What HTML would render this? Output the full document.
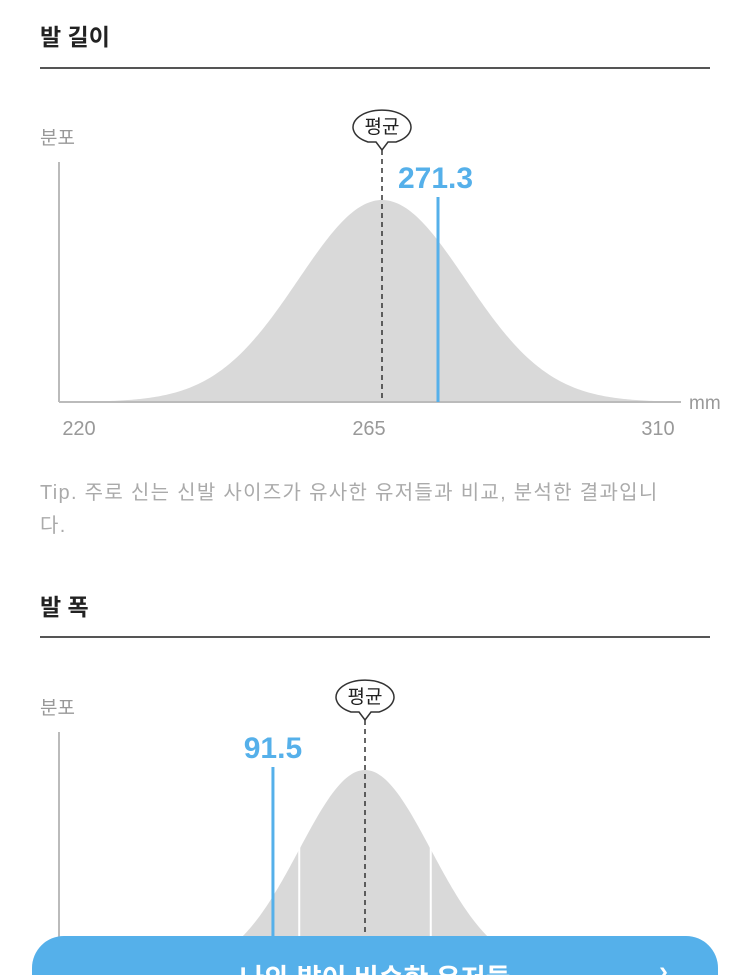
<!DOCTYPE html>
<html style="overflow:hidden;width:750px;height:975px"><head><meta charset="utf-8"><style>
body{margin:0;width:750px;height:975px;overflow:hidden;background:#fff;font-family:"Liberation Sans","Noto Sans CJK KR",sans-serif;position:relative}
.t{position:absolute;left:40px;font-size:23px;font-weight:bold;color:#222}
.hr{position:absolute;left:40px;width:670px;height:2px;background:#555}
.tip{position:absolute;left:40px;top:477px;width:700px;font-size:20px;letter-spacing:1.3px;line-height:33px;color:#aaa}
.btn{position:absolute;left:32px;top:936px;width:686px;height:39px;border-radius:32px 32px 0 0;background:#55b0ea;color:#fff;font-size:27px;font-weight:bold;text-align:center;overflow:hidden}
.btn span.l{position:absolute;left:0;right:0;top:28px;line-height:30px}
svg{position:absolute;left:0;top:0}
</style></head><body>
<div class="t" style="top:18px">발 길이</div>
<div class="hr" style="top:67px"></div>
<div class="tip">Tip. 주로 신는 신발 사이즈가 유사한 유저들과 비교, 분석한 결과입니<br>다.</div>
<div class="t" style="top:588px">발 폭</div>
<div class="hr" style="top:636px"></div>
<svg id="s" width="750" height="975"></svg>
<div class="btn"><span class="l">나와 발이 비슷한 유저들</span><span style="position:absolute;right:50px;top:20px">›</span></div>
<script>
const lenTicks=["220","265","310"];
const lenMean=[265];
const lenMine=[271.3];
const lenSd=[9.4];
const widMean=[95.0];
const widMine=[91.5];
const widSd=[2.5];
const NS="http://www.w3.org/2000/svg";
const s=document.getElementById('s');
function el(t,a,txt){const e=document.createElementNS(NS,t);for(const k in a)e.setAttribute(k,a[k]);if(txt!=null)e.textContent=txt;s.appendChild(e);return e;}
function chart(o){
  const x=v=>o.cx+(v-o.mean)*o.k;
  const y=f=>o.base-f*o.h;
  let d=`M${o.x0},${o.base}`;
  for(let px=o.x0;px<=o.x1;px+=2){const z=(px-x(o.mean))/(o.sd*o.k);d+=` L${px},${y(Math.exp(-z*z/2))}`;}
  d+=` L${o.x1},${o.base} Z`;
  let e=el('path',{d,fill:'#d9d9d9'});
  
  
  if(o.sdLines){[-1,1].forEach(m=>{const px=x(o.mean+m*o.sd);e=el('line',{x1:px,x2:px,y1:y(Math.exp(-0.5))-8,y2:o.base,stroke:'#fff','stroke-width':2});
    
    });}
  e=el('line',{x1:59,x2:59,y1:o.axTop,y2:o.base,stroke:'#bbb','stroke-width':2});
  
  
  e=el('text',{x:40,y:o.axTop-18,'font-size':19,fill:'#999'},'분포');
  
  
  if(o.ticks){
    e=el('line',{x1:59,x2:681,y1:o.base,y2:o.base,stroke:'#bbb','stroke-width':2});
    
    
    const tx=[79,369,658];
    o.ticks.forEach((t,i)=>{e=el('text',{x:tx[i],y:o.base+33,'font-size':20,fill:'#999','text-anchor':'middle'},t);
      
      });
    e=el('text',{x:689,y:o.base+7,'font-size':19,fill:'#999'},'mm');
    
    
  }
  const mx=x(o.mean);
  e=el('line',{x1:mx,x2:mx,y1:o.mTop,y2:o.base,stroke:'#333','stroke-width':1.5,'stroke-dasharray':'5,4'});
  
  
  const by=o.mTop-8;
  e=el('path',{d:`M${mx-6},${by} L${mx},${by+8} L${mx+6},${by} L${mx+14},${by} A29 17 0 1 0 ${mx-14},${by} Z`,fill:'#fff',stroke:'#333','stroke-width':1.5});
  
  
  e=el('text',{x:mx,y:by-9,'font-size':19,fill:'#222','text-anchor':'middle'},'평균');
  
  
  const vx=x(o.mine);
  e=el('line',{x1:vx,x2:vx,y1:o.vTop,y2:o.base,stroke:'#55b0ea','stroke-width':3});
  
  
  e=el('text',{x:o.labX(vx),y:o.vTop-9,'font-size':30,'font-weight':'bold',fill:'#55b0ea','text-anchor':o.anchor},String(o.mine));
  
  
}
chart({n:'length',mean:lenMean[0],mine:lenMine[0],sd:lenSd[0],cx:382,k:8.89,base:402,h:202,x0:60,x1:680,axTop:162,ticks:lenTicks,mTop:150,vTop:197,labX:v=>v-40,anchor:'start'});
chart({n:'width',mean:widMean[0],mine:widMine[0],sd:widSd[0],cx:365,k:26.3,base:972,h:202,x0:60,x1:680,axTop:732,ticks:null,mTop:720,vTop:767,labX:v=>v,anchor:'middle',sdLines:true});
</script>
</body></html>
